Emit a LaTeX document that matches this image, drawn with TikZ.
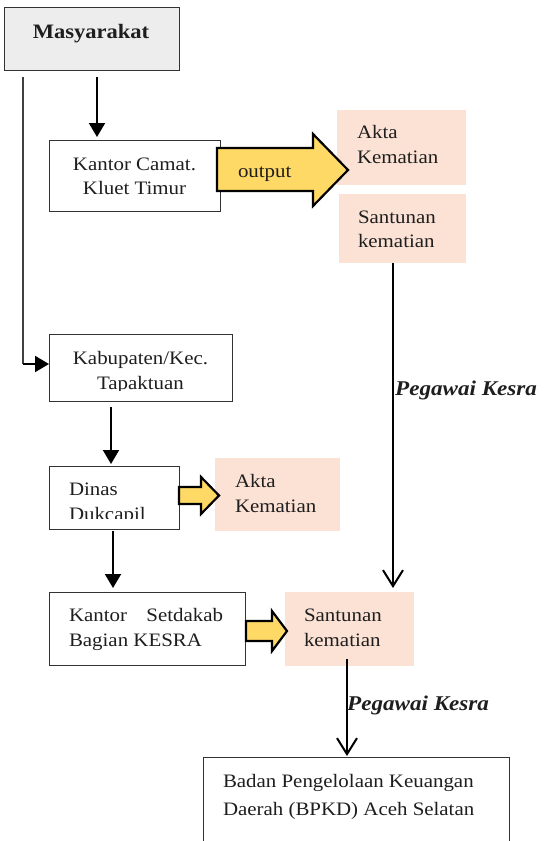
\documentclass[tikz,border=0pt]{standalone}
\usepackage{fontspec}
\setmainfont[FakeStretch=1.1]{Liberation Serif}
\usetikzlibrary{arrows.meta}
\definecolor{yel}{HTML}{FFD966}
\definecolor{pinkc}{HTML}{FBE2D5}
\definecolor{grayc}{HTML}{EDEDED}
\definecolor{txtc}{HTML}{1E1E1E}
\tikzset{
  txt/.style={inner sep=0pt, outer sep=0pt, text=txtc, font=\fontsize{19}{22}\selectfont},
  boxn/.style={draw=black!80, line width=1pt, fill=white, inner sep=0pt, anchor=north west},
  pinkbox/.style={fill=pinkc, inner sep=0pt, anchor=north west},
  solidarr/.style={draw=black, line width=2pt, -{Triangle[width=16pt,length=14pt]}},
  openarr/.style={draw=black, line width=2pt, -{Straight Barb[width=20pt,length=16pt,line width=2pt]}},
  blockarr/.style={draw=black, line width=2.2pt, fill=yel, line join=miter},
  lbl/.style={inner sep=0pt, text=txtc, font=\fontsize{21}{24}\selectfont\bfseries\itshape, anchor=base west}
}
\begin{document}
\begin{tikzpicture}[x=1pt,y=-1pt]
\useasboundingbox (0,0) rectangle (544,841);

% boxes
\node[boxn, fill=grayc, minimum width=175pt, minimum height=63pt] (masy) at (4,7) {};
\node[boxn, minimum width=171pt, minimum height=71pt] (camat) at (49,140) {};
\node[pinkbox, minimum width=129pt, minimum height=75pt] (akta1) at (337,110) {};
\node[pinkbox, minimum width=127pt, minimum height=69pt] (sant1) at (339,194) {};
\node[boxn, minimum width=183pt, minimum height=67pt] (kab) at (49,334) {};
\node[boxn, minimum width=130pt, minimum height=63pt] (dinas) at (49,466) {};
\node[pinkbox, minimum width=125pt, minimum height=73pt] (akta2) at (215,458) {};
\node[boxn, minimum width=196pt, minimum height=73pt] (setda) at (49,592) {};
\node[pinkbox, minimum width=129pt, minimum height=74pt] (sant2) at (285,592) {};
\node[boxn, minimum width=306pt, minimum height=110pt] (bpkd) at (203,757) {};

% texts
\node[txt, anchor=base, font=\fontsize{20.5}{24}\selectfont\bfseries] (tmasy) at (91,38) {Masyarakat};
\node[txt, anchor=base] (tcam1) at (134.5,170) {Kantor Camat.};
\node[txt, anchor=base] (tcam2) at (134.5,194) {Kluet Timur};
\node[txt, anchor=base west] (takta1a) at (357,138) {Akta};
\node[txt, anchor=base west] (takta1b) at (357,163) {Kematian};
\node[txt, anchor=base west] (tsant1a) at (358,223) {Santunan};
\node[txt, anchor=base west] (tsant1b) at (358,247) {kematian};
\node[txt, anchor=base] (tkab1) at (140.5,364) {Kabupaten/Kec.};
\begin{scope}
  \clip (49,334) rectangle (232,390);
  \node[txt, anchor=base] (tkab2) at (140.5,389) {Tapaktuan};
\end{scope}
\node[txt, anchor=base west] (tdin1) at (69,495) {Dinas};
\begin{scope}
  \clip (49,466) rectangle (179,518.5);
  \node[txt, anchor=base west] (tdin2) at (69,520) {Dukcapil};
\end{scope}
\node[txt, anchor=base west] (takta2a) at (235,487) {Akta};
\node[txt, anchor=base west] (takta2b) at (235,512) {Kematian};
\node[txt, anchor=base west] (tset1) at (69,621) {\makebox[154pt][l]{Kantor\hfill Setdakab}};
\node[txt, anchor=base west] (tset2) at (69,646) {Bagian KESRA};
\node[txt, anchor=base west] (tsant2a) at (304,621) {Santunan};
\node[txt, anchor=base west] (tsant2b) at (304,646) {kematian};
\node[txt, anchor=base west] (tbp1) at (223,787) {Badan Pengelolaan Keuangan};
\node[txt, anchor=base west] (tbp2) at (223,815) {Daerah (BPKD) Aceh Selatan};

% block arrows
\draw[blockarr] (217,148) -- (313,148) -- (313,134) -- (348,170) -- (313,206) -- (313,191) -- (217,191) -- cycle;
\node[txt, anchor=base west] (tout) at (238,177) {output};
\draw[blockarr] (179,487) -- (201,487) -- (201,477) -- (219,495.5) -- (201,514) -- (201,504) -- (179,504) -- cycle;
\draw[blockarr] (246,621) -- (272,621) -- (272,611) -- (287,631) -- (272,651) -- (272,641) -- (246,641) -- cycle;

% connectors
\coordinate (m1) at (97,77);
\draw[solidarr, shorten >=3pt] (m1) -- (m1 |- camat.north);
\coordinate (l1) at (23,77);
\coordinate (l2) at (23,364);
\draw[draw=black!75, line width=1.3pt] (l1) -- (l2);
\draw[solidarr] (l2) -- (l2 -| kab.west);
\coordinate (k1) at (111,407);
\draw[solidarr, shorten >=2pt] (k1) -- (k1 |- dinas.north);
\coordinate (d1) at (113,531);
\draw[solidarr, shorten >=4pt] (d1) -- (d1 |- setda.north);
\coordinate (s1) at (393,263);
\draw[openarr, shorten >=4pt] (s1) -- (s1 |- sant2.north);
\coordinate (s2) at (347,659);
\draw[openarr, shorten >=1pt] (s2) -- (s2 |- bpkd.north);

% labels
\node[lbl] (peg1) at (395,395) {Pegawai Kesra};
\node[lbl] (peg2) at (347,710) {Pegawai Kesra};
\end{tikzpicture}
\end{document}
